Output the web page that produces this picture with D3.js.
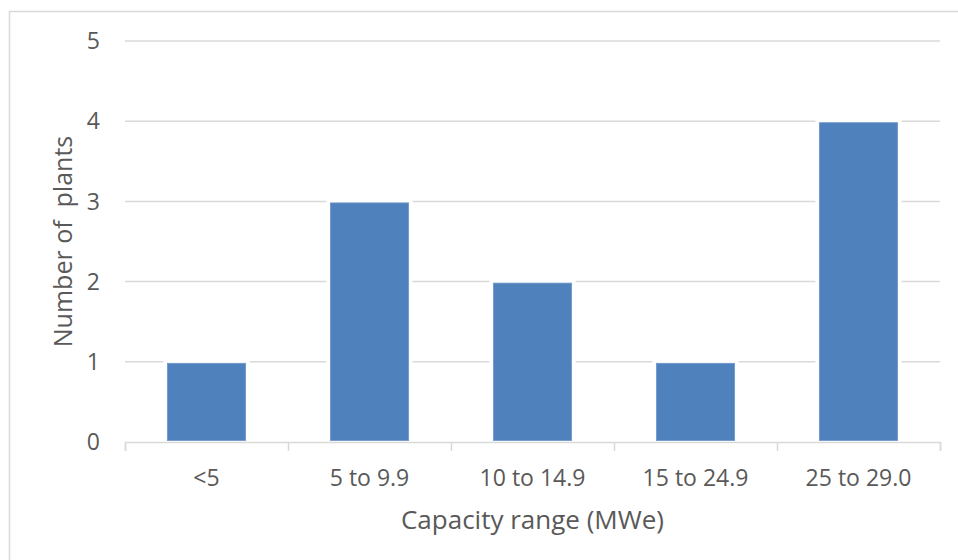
<!DOCTYPE html>
<html>
<head>
<meta charset="utf-8">
<script src="https://cdn.jsdelivr.net/npm/d3@7"></script>
<style>
  html, body { margin: 0; padding: 0; background: #fff; }
  svg { display: block; font-family: "Open Sans", sans-serif; }
</style>
</head>
<body>
<svg id="chart" width="958" height="560"></svg>
<script>
const categories = ["<5", "5 to 9.9", "10 to 14.9", "15 to 24.9", "25 to 29.0"];
const plantCounts = [1, 3, 2, 1, 4];
const yTicks = [0, 1, 2, 3, 4, 5];
const xTitle = "Capacity range (MWe)";
const yTitle = "Number of  plants";

const svg = d3.select("#chart");
const plotLeft = 125, plotRight = 940, plotTop = 41, plotBottom = 442;

// chart border
svg.append("rect")
  .attr("x", 9.5).attr("y", 11.5)
  .attr("width", 980).attr("height", 600)
  .attr("fill", "#fff").attr("stroke", "#d9d9d9").attr("stroke-width", 1.5);

const x = d3.scaleBand().domain(categories).range([plotLeft, plotRight])
  .paddingInner(0.52).paddingOuter(0.26);
const y = d3.scaleLinear().domain([0, 5]).range([plotBottom, plotTop]);

// gridlines
svg.append("g").selectAll("line").data(yTicks.filter(d => d > 0)).join("line")
  .attr("x1", plotLeft).attr("x2", plotRight)
  .attr("y1", d => y(d)).attr("y2", d => y(d))
  .attr("stroke", "#d9d9d9").attr("stroke-width", 1.5);

// white halo around bars
svg.append("g").selectAll("rect").data(plantCounts).join("rect")
  .attr("x", (d, i) => x(categories[i]) - 4)
  .attr("y", d => y(d) - 2.5)
  .attr("width", x.bandwidth() + 8)
  .attr("height", d => y(0) - y(d) + 2.5)
  .attr("fill", "#fff");

// x axis
const xAxis = d3.axisBottom(d3.scaleLinear().domain([0, categories.length]).range([plotLeft, plotRight]))
  .tickValues(d3.range(categories.length + 1)).tickSize(9).tickFormat("");
const gx = svg.append("g").attr("transform", `translate(0,${plotBottom})`).call(xAxis);
gx.select(".domain").attr("stroke", "#d9d9d9").attr("stroke-width", 1.5);
gx.selectAll(".tick line").attr("stroke", "#d9d9d9").attr("stroke-width", 1.5);

// bars
svg.append("g").selectAll("rect").data(plantCounts).join("rect")
  .attr("x", (d, i) => x(categories[i]))
  .attr("y", d => y(d) + 1.5)
  .attr("width", x.bandwidth())
  .attr("height", d => y(0) - y(d) - 3)
  .attr("fill", "#4f81bd")
  .attr("stroke", "#6f97c8").attr("stroke-width", 0.8);

// x labels
svg.append("g").selectAll("text").data(categories).join("text")
  .attr("x", d => x(d) + x.bandwidth() / 2)
  .attr("y", 486)
  .attr("text-anchor", "middle")
  .attr("fill", "#595959").attr("font-size", 23)
  .text(d => d);

// y labels
svg.append("g").selectAll("text").data(yTicks).join("text")
  .attr("x", 100).attr("y", d => y(d))
  .attr("dy", "0.36em")
  .attr("text-anchor", "end")
  .attr("fill", "#595959").attr("font-size", 23)
  .text(d => d);

// axis titles
svg.append("text")
  .attr("x", (plotLeft + plotRight) / 2).attr("y", 529)
  .attr("text-anchor", "middle")
  .attr("fill", "#595959").attr("font-size", 26)
  .text(xTitle);

svg.append("text")
  .attr("transform", `translate(72,${(plotTop + plotBottom) / 2}) rotate(-90)`)
  .attr("text-anchor", "middle")
  .style("white-space", "pre")
  .attr("fill", "#595959").attr("font-size", 25)
  .text(yTitle);
</script>
</body>
</html>
